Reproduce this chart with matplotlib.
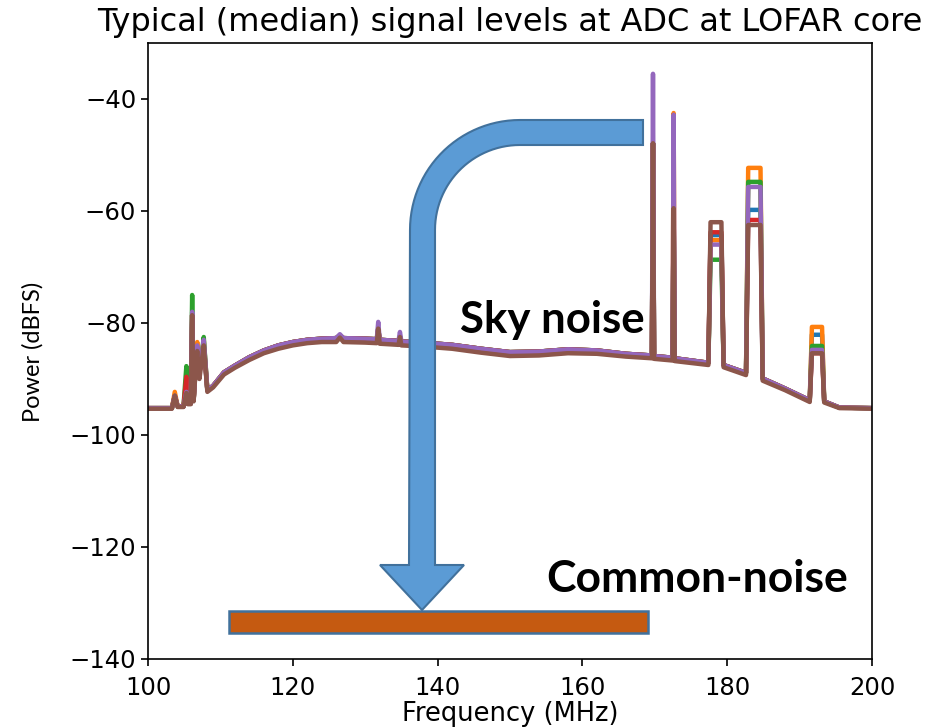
import numpy as np
import matplotlib
matplotlib.use("Agg")
import matplotlib.pyplot as plt
from matplotlib.patches import Polygon
from matplotlib.transforms import Affine2D

W, H = 933, 727

# ---------------- data ----------------
freq_mhz = [100.0, 103.3, 103.7, 104.1, 104.9, 105.3, 105.5, 105.9, 106.1, 106.3,
            106.6, 106.8, 107.1, 107.4, 107.7, 108.2, 109.0, 110.5, 112.0, 114.0,
            116.0, 118.0, 120.0, 122.0, 124.0, 126.0, 126.5, 127.0, 130.0, 131.6,
            131.8, 132.0, 134.6, 134.8, 135.0, 138.0, 142.0, 146.0, 150.0, 154.0,
            158.0, 162.0, 166.0, 169.6, 169.75, 169.9, 172.45, 172.6, 172.75, 177.4,
            177.7, 179.2, 179.5, 182.6, 182.9, 184.6, 184.9, 188.0, 191.4, 191.7,
            193.1, 193.4, 195.5, 200.0]

# brown (last drawn) series, full
level_brown_db = [-95.3, -95.3, -93.0, -95.0, -95.0, -92.5, -94.5, -94.5, -78.6, -94.0,
                  -88.0, -85.0, -90.0, -87.0, -84.0, -92.3, -91.5, -89.2, -88.0, -86.6,
                  -85.4, -84.6, -84.0, -83.6, -83.4, -83.4, -82.6, -83.4, -83.5, -83.6,
                  -81.0, -83.7, -83.9, -82.5, -84.0, -84.2, -84.6, -85.3, -85.9, -85.8,
                  -85.4, -85.5, -86.0, -86.3, -47.9, -86.4, -86.7, -59.5, -86.8, -87.5,
                  -62.0, -62.0, -87.9, -89.3, -62.5, -62.5, -90.3, -92.0, -94.1, -85.4,
                  -85.4, -94.2, -95.2, -95.3]

# continuum shared by the other series (values at feature frequencies are replaced)
level_continuum_db = [-95.2, -95.2, -95.0, -94.9, -94.9, -94.5, -94.4, -94.4, -94.0, -93.8,
                      -87.5, -86.0, -89.0, -86.0, -85.0, -92.0, -91.2, -88.8, -87.6, -86.1,
                      -84.9, -84.0, -83.4, -83.0, -82.8, -82.7, -82.7, -82.7, -82.8, -82.9,
                      -82.9, -83.0, -83.2, -83.2, -83.3, -83.5, -83.9, -84.6, -85.2, -85.1,
                      -84.7, -84.9, -85.5, -85.8, -85.8, -85.9, -86.2, -86.2, -86.3, -87.1,
                      -87.1, -87.5, -87.5, -88.9, -88.9, -89.9, -89.9, -91.7, -93.8, -93.8,
                      -94.0, -94.0, -95.1, -95.2]

feature_freqs = [103.7, 105.3, 106.1, 106.8, 107.7, 126.5, 131.8, 134.8,
                 169.75, 172.6, 177.7, 179.2, 182.9, 184.6, 191.7, 193.1]

feature_blue_db   = [-93.0, -92.0, -78.6, -84.5, -84.0, -82.2, -81.0, -82.4,
                     -47.9, -59.5, -64.3, -64.3, -59.8, -59.8, -82.1, -82.1]
feature_orange_db = [-92.3, -91.5, -78.6, -83.4, -83.0, -82.2, -81.0, -82.4,
                     -47.9, -42.5, -65.2, -65.2, -52.3, -52.3, -80.7, -80.7]
feature_green_db  = [-93.0, -87.7, -75.0, -84.5, -82.5, -82.2, -81.0, -82.4,
                     -47.9, -59.5, -68.7, -68.7, -54.8, -54.8, -84.1, -84.1]
feature_red_db    = [-93.0, -89.6, -78.6, -84.5, -84.0, -82.2, -81.0, -82.4,
                     -47.9, -59.5, -63.8, -63.8, -61.6, -61.6, -85.4, -85.4]
feature_purple_db = [-93.0, -92.3, -78.0, -84.0, -83.0, -82.0, -79.8, -81.6,
                     -35.5, -42.8, -66.0, -66.0, -55.7, -55.7, -84.8, -84.8]

series_colors = ['#1f77b4', '#ff7f0e', '#2ca02c', '#d62728', '#9467bd', '#8c564b']

x_ticks = [100, 120, 140, 160, 180, 200]
y_ticks = [-140, -120, -100, -80, -60, -40]

title_text = "Typical (median) signal levels at ADC at LOFAR core"
xlabel_text = "Frequency (MHz)"
ylabel_text = "Power (dBFS)"
label_sky = "Sky noise"
label_common = "Common-noise"

# ---------------- figure ----------------
fig = plt.figure(figsize=(W / 100, H / 100), dpi=100)
ax = fig.add_axes([148 / W, (H - 659) / H, (872 - 148) / W, (659 - 43) / H])

freq = np.array(freq_mhz)
feat_idx = [freq_mhz.index(f) for f in feature_freqs]

def build(features):
    vals = np.array(level_continuum_db, dtype=float)
    for i, v in zip(feat_idx, features):
        vals[i] = v
    return vals

series = [build(feature_blue_db), build(feature_orange_db), build(feature_green_db),
          build(feature_red_db), build(feature_purple_db), np.array(level_brown_db)]

for vals, c in zip(series, series_colors):
    ax.plot(freq, vals, color=c, lw=3.2, solid_joinstyle='round', solid_capstyle='round')

ax.set_xlim(100, 200)
ax.set_ylim(-140, -30)
ax.set_xticks(x_ticks)
ax.set_yticks(y_ticks)
ax.tick_params(labelsize=17.5, width=1.2, length=5, color='black')
ax.tick_params(axis='x', pad=7)
for s in ax.spines.values():
    s.set_linewidth(1.2)
    s.set_color('black')

ax.set_title(title_text, fontsize=23, pad=9)
ax.set_xlabel(xlabel_text, fontsize=18.5, labelpad=1)
fig.text(33 / W, (H - 352) / H, ylabel_text, rotation=90, ha='center', va='center',
         fontsize=17, family=['Lato', 'DejaVu Sans'])

# ---------------- overlay shapes (image pixel coords) ----------------
pix = Affine2D().scale(1 / W, -1 / H).translate(0, 1) + fig.transFigure

# bent arrow
cx, cy, r_out, r_in = 520, 230, 110, 85
right_end = 643
shaft_l, shaft_r = 409, 435
head_y, head_l, head_r, tip_x, tip_y = 565, 380, 464, 422, 610
pts = [(right_end, cy - r_out)]
for t in np.linspace(np.pi / 2, np.pi, 30):
    pts.append((cx + r_out * np.cos(t), cy - r_out * np.sin(t)))
pts += [(shaft_l, head_y), (head_l, head_y), (tip_x, tip_y), (head_r, head_y), (shaft_r, head_y)]
for t in np.linspace(np.pi, np.pi / 2, 30):
    pts.append((cx + r_in * np.cos(t), cy - r_in * np.sin(t)))
pts.append((right_end, cy - r_in))
arrow = Polygon(pts, closed=True, facecolor='#5B9BD5', edgecolor='#41719C', lw=1.5,
                transform=pix, zorder=10)
fig.patches.append(arrow)

# common-noise bar
bar = Polygon([(229, 611), (648, 611), (648, 633), (229, 633)], closed=True,
              facecolor='#C55A11', edgecolor='#41719C', lw=1.8, transform=pix, zorder=10)
fig.patches.append(bar)

fig.text(460 / W, (H - 333) / H, label_sky, fontsize=31.5, fontweight='bold',
         family=['Lato', 'DejaVu Sans'], ha='left', va='baseline', zorder=11)
fig.text(546 / W, (H - 592) / H, label_common, fontsize=32, fontweight='bold',
         family=['Lato', 'DejaVu Sans'], ha='left', va='baseline', zorder=11)

fig.savefig("out.png", dpi=100)
